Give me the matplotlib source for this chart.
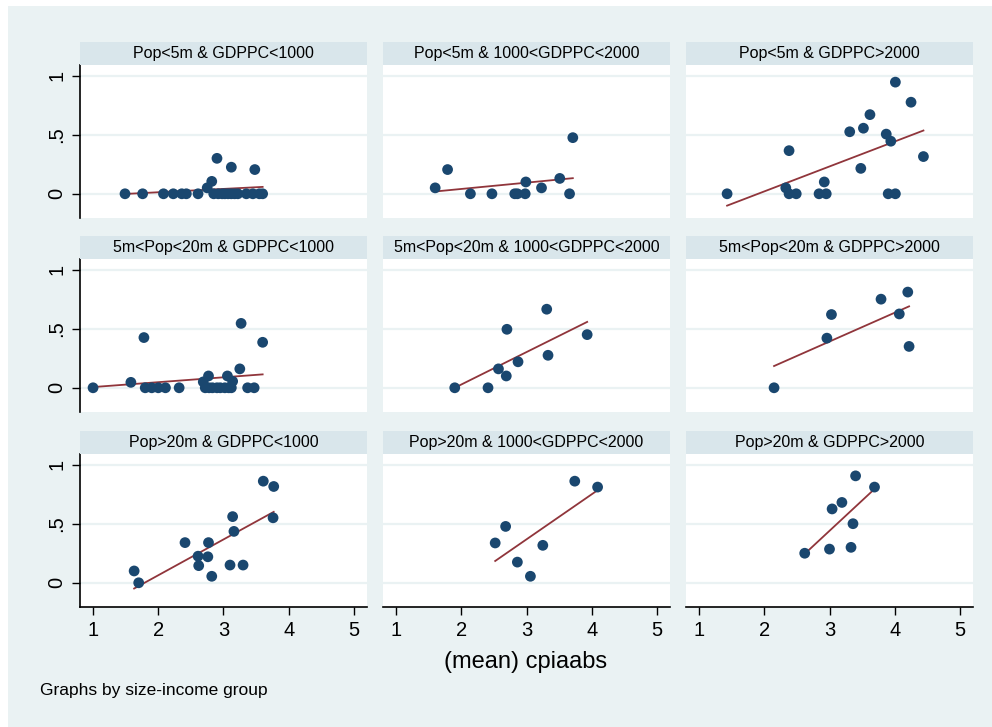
import numpy as np
import matplotlib
matplotlib.use("Agg")
import matplotlib.pyplot as plt
from matplotlib.patches import Rectangle

plt.rcParams['font.family'] = ['Liberation Sans', 'DejaVu Sans']

titles = ["Pop<5m & GDPPC<1000", "Pop<5m & 1000<GDPPC<2000", "Pop<5m & GDPPC>2000",
          "5m<Pop<20m & GDPPC<1000", "5m<Pop<20m & 1000<GDPPC<2000", "5m<Pop<20m & GDPPC>2000",
          "Pop>20m & GDPPC<1000", "Pop>20m & 1000<GDPPC<2000", "Pop>20m & GDPPC>2000"]

x1 = [1.49, 1.76, 2.08, 2.23, 2.36, 2.43, 2.61, 2.75, 2.82, 2.90, 2.85, 2.92, 2.98, 3.02,
      3.07, 3.12, 3.17, 3.12, 3.35, 3.45, 3.48, 3.55, 3.60, 3.22]
y1 = [0, 0, 0, 0, 0, 0, 0, 0.05, 0.105, 0.30, 0, 0, 0, 0,
      0, 0, 0, 0.225, 0, 0, 0.205, 0, 0, 0]
x2 = [1.60, 1.79, 2.14, 2.47, 2.82, 2.86, 2.99, 2.98, 3.23, 3.51, 3.71, 3.66]
y2 = [0.05, 0.205, 0, 0, 0, 0, 0.10, 0, 0.05, 0.13, 0.475, 0]
x3 = [1.43, 2.33, 2.38, 2.38, 2.49, 2.84, 2.95, 2.92, 3.31, 3.48, 3.52, 3.62, 3.87, 3.94,
      3.90, 4.01, 4.01, 4.25, 4.44]
y3 = [0, 0.05, 0.365, 0, 0, 0, 0, 0.10, 0.525, 0.215, 0.555, 0.67, 0.505, 0.445,
      0, 0, 0.945, 0.775, 0.315]
x4 = [1.00, 1.58, 1.78, 1.80, 1.90, 2.00, 2.11, 2.32, 2.69, 2.77, 2.72, 2.78, 2.83, 2.90,
      2.95, 3.02, 3.08, 3.12, 3.06, 3.14, 3.25, 3.27, 3.37, 3.47, 3.60]
y4 = [0, 0.046, 0.425, 0, 0, 0, 0, 0, 0.05, 0.10, 0, 0, 0, 0,
      0, 0, 0, 0, 0.10, 0.055, 0.16, 0.545, 0, 0, 0.385]
x5 = [1.90, 2.41, 2.57, 2.69, 2.70, 2.87, 3.31, 3.33, 3.93]
y5 = [0, 0, 0.16, 0.10, 0.495, 0.22, 0.665, 0.275, 0.45]
x6 = [2.15, 2.96, 3.03, 3.79, 4.07, 4.20, 4.22]
y6 = [0, 0.42, 0.62, 0.75, 0.625, 0.81, 0.35]
x7 = [1.63, 1.70, 2.41, 2.61, 2.62, 2.77, 2.76, 2.82, 3.10, 3.14, 3.16, 3.30, 3.61, 3.77, 3.76]
y7 = [0.10, 0.0, 0.34, 0.225, 0.145, 0.34, 0.22, 0.055, 0.15, 0.56, 0.435, 0.15, 0.86, 0.815, 0.55]
x8 = [2.52, 2.68, 2.86, 3.06, 3.25, 3.74, 4.09]
y8 = [0.337, 0.477, 0.175, 0.055, 0.317, 0.86, 0.81]
x9 = [2.62, 3.00, 3.04, 3.19, 3.33, 3.36, 3.40, 3.69]
y9 = [0.25, 0.285, 0.625, 0.68, 0.30, 0.50, 0.905, 0.81]

xs = [x1, x2, x3, x4, x5, x6, x7, x8, x9]
ys = [y1, y2, y3, y4, y5, y6, y7, y8, y9]

xticks = [1, 2, 3, 4, 5]
yticks = [0, 0.5, 1]
yticklabels = ["0", ".5", "1"]

W, H = 992, 727
fig = plt.figure(figsize=(W / 100, H / 100), dpi=100)
fig.patch.set_facecolor("white")
bg = "#EAF2F3"
fig.patches.append(Rectangle((8 / W, 0), 1 - 8 / W, 1 - 6 / H, transform=fig.transFigure,
                             facecolor=bg, edgecolor="none", zorder=-10))

col_left = [80, 383, 686]
col_w = 287
row_top = [65, 259, 454]
row_h = 153
strip_h = 23

navy = "#1A476F"
maroon = "#90353B"

for i in range(9):
    r, c = divmod(i, 3)
    L = col_left[c]
    T = row_top[r]
    ax = fig.add_axes([L / W, 1 - (T + row_h) / H, col_w / W, row_h / H])
    ax.set_facecolor("white")
    ax.set_xlim(0.8, 5.2)
    ax.set_ylim(-0.205, 1.09)
    for yv in yticks:
        ax.axhline(yv, color=bg, lw=1.6, zorder=0)
    x = np.array(xs[i]); y = np.array(ys[i])
    b, a = np.polyfit(x, y, 1)
    xl = np.array([x.min(), x.max()])
    ax.plot(xl, a + b * xl, color=maroon, lw=1.3, zorder=2)
    ax.scatter(x, y, s=60, color=navy, edgecolors="none", zorder=3)
    for s in ax.spines.values():
        s.set_visible(False)
    ax.set_xticks(xticks)
    ax.set_yticks(yticks)
    if c == 0:
        ax.spines['left'].set_visible(True)
        ax.spines['left'].set_color("black")
        ax.spines['left'].set_linewidth(1.2)
        ax.set_yticklabels(yticklabels, rotation=90, va="center", fontsize=14.5)
        ax.tick_params(axis='y', length=6, width=1, pad=4)
    else:
        ax.tick_params(axis='y', left=False, labelleft=False)
    if r == 2:
        ax.spines['bottom'].set_visible(True)
        ax.spines['bottom'].set_color("black")
        ax.spines['bottom'].set_linewidth(1.2)
        ax.set_xticklabels([str(t) for t in xticks], fontsize=14.5)
        ax.tick_params(axis='x', length=6, width=1, pad=4)
    else:
        ax.tick_params(axis='x', bottom=False, labelbottom=False)
    sax = fig.add_axes([L / W, 1 - T / H, col_w / W, strip_h / H])
    sax.set_facecolor("#D9E6EB")
    sax.set_xticks([]); sax.set_yticks([])
    for s in sax.spines.values():
        s.set_visible(False)
    sax.text(0.5, 0.5, titles[i], ha="center", va="center", fontsize=11.5,
             transform=sax.transAxes, color="black")

fig.text(526 / W, 1 - 662 / H, "(mean) cpiaabs", ha="center", va="center", fontsize=17)
fig.text(40 / W, 1 - 690 / H, "Graphs by size-income group", ha="left", va="center", fontsize=12.5)

fig.savefig("out.png", dpi=100, facecolor=fig.get_facecolor())
